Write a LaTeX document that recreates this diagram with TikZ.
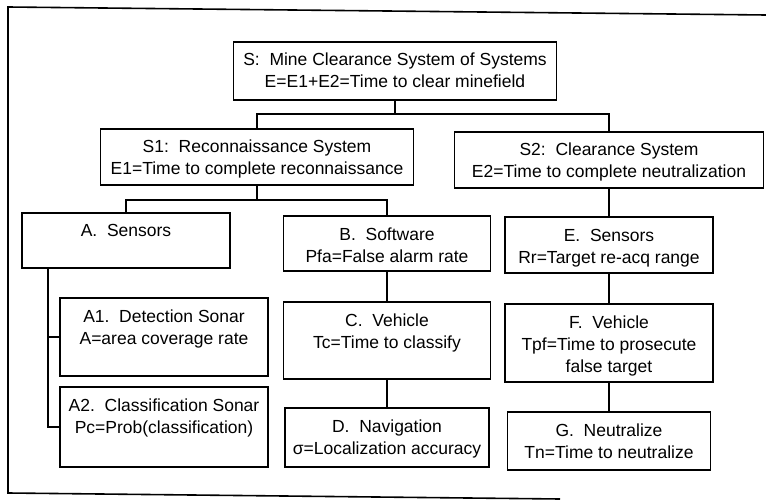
\documentclass[tikz,border=0pt]{standalone}
\usepackage{fontspec}
\setmainfont{Liberation Sans}
\frenchspacing
\newcommand{\boxtxt}[3]{\parbox[c][#2][t]{#1}{\centering\rule{0pt}{24pt}#3}}
\begin{document}
\begin{tikzpicture}[x=1pt,y=-1pt,
  box/.style={draw, line width=1.6pt, inner sep=0pt, outer sep=0pt, font=\fontsize{17.5}{22}\selectfont},
  conn/.style={line width=1.6pt},
  frame/.style={line width=1.6pt}]
\useasboundingbox (0,0) rectangle (766,500);
% outer frame
\draw[frame] (766,15) -- (8,7) -- (8,493) -- (560,499);
% boxes
\node[box] (S)  at (395,71)    {\boxtxt{323pt}{58pt}{S:\ \ Mine Clearance System of Systems\\E=E1+E2=Time to clear minefield}};
\node[box] (S1) at (257,157)   {\boxtxt{313pt}{56pt}{S1:\ \ Reconnaissance System\\E1=Time to complete reconnaissance}};
\node[box] (S2) at (609,160)   {\boxtxt{309pt}{56pt}{S2:\ \ Clearance System\\E2=Time to complete neutralization}};
\node[box] (A)  at (126,240.5) {\boxtxt{208pt}{55pt}{A.\ \ Sensors}};
\node[box] (B)  at (387,243.5) {\boxtxt{207pt}{55pt}{B.\ \ Software\\Pfa=False alarm rate}};
\node[box] (E)  at (609,245)   {\boxtxt{208pt}{56pt}{E.\ \ Sensors\\Rr=Target re-acq range}};
\node[box] (A1) at (164,337)   {\boxtxt{208pt}{78pt}{A1.\ \ Detection Sonar\\A=area coverage rate}};
\node[box] (A2) at (164,427)   {\boxtxt{208pt}{80pt}{A2.\ \ Classification Sonar\\Pc=Prob(classification)}};
\node[box] (C)  at (387,340.5) {\boxtxt{207pt}{77pt}{C.\ \ Vehicle\\Tc=Time to classify}};
\node[box] (D)  at (387,437.5) {\boxtxt{204pt}{59pt}{D.\ \ Navigation\\σ=Localization accuracy}};
\node[box] (F)  at (609,343)   {\boxtxt{208pt}{78pt}{F.\ \ Vehicle\\Tpf=Time to prosecute\\false target}};
\node[box] (G)  at (609,441)   {\boxtxt{203pt}{58pt}{G.\ \ Neutralize\\Tn=Time to neutralize}};
% connectors
\draw[conn] (S.south) -- ++(0,14) -| (S1.north);
\draw[conn] (S.south) ++(0,14) -| (S2.north);
\draw[conn] (S1.south) -- ++(0,15) -| (A.north);
\draw[conn] (S1.south) ++(0,15) -| (B.north);
\draw[conn] (S2.south) -- (E.north);
\draw[conn] (B.south) -- (C.north);
\draw[conn] (C.south) -- (D.north);
\draw[conn] (E.south) -- (F.north);
\draw[conn] (F.south) -- (G.north);
\draw[conn] ([xshift=26pt]A.south west) |- (A1.west);
\draw[conn] ([xshift=26pt]A.south west) |- (A2.west);
\end{tikzpicture}
\end{document}
